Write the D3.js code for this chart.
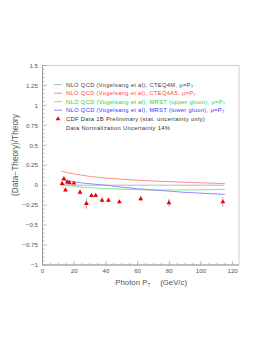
<!DOCTYPE html>
<html><head><meta charset="utf-8">
<script src="https://cdn.jsdelivr.net/npm/d3@7"></script>
<style>body{margin:0;background:#fff}svg{display:block}text{font-family:"Liberation Sans",Arial,sans-serif}</style>
</head><body>
<script>
const yTicks = [-1,-0.75,-0.5,-0.25,0,0.25,0.5,0.75,1,1.25,1.5];
const xTicks = [0,20,40,60,80,100,120];
const thPt = [12,15,20,25,30,40,50,60,70,80,90,100,115];
const thCTEQ4M = [0,0,0,0,0,0,0,0,0,0,0,0,0];
const thCTEQ4A5 = [0.175,0.16,0.14,0.125,0.11,0.09,0.075,0.062,0.052,0.045,0.036,0.03,0.02];
const thMRSTup = [0.01,0.0,-0.015,-0.025,-0.032,-0.042,-0.05,-0.056,-0.06,-0.06,-0.06,-0.058,-0.052];
const thMRSTlow = [0.07,0.06,0.042,0.028,0.018,0.0,-0.025,-0.045,-0.06,-0.075,-0.09,-0.1,-0.115];
const dataPt = [12.4,13.5,14.5,15.6,17,19.8,23.7,27.7,30.9,33.6,37.6,41.6,48.5,62,79.8,113.8];
const dataVal = [0.02,0.08,-0.06,0.04,0.03,0.025,-0.09,-0.23,-0.13,-0.13,-0.19,-0.19,-0.21,-0.17,-0.22,-0.21];
const dataErr = [0.015,0.02,0.02,0.015,0.015,0.015,0.03,0.065,0.02,0.02,0.02,0.02,0.025,0.03,0.05,0.06];
const legendLabels = [
 ["NLO QCD (Vogelsang et al), CTEQ4M, \u03bc=P","T"],
 ["NLO QCD (Vogelsang et al), CTEQ4A5, \u03bc=P","T"],
 ["NLO QCD (Vogelsang et al), MRST (upper gluon), \u03bc=P","T"],
 ["NLO QCD (Vogelsang et al), MRST (lower gluon), \u03bc=P","T"]
];
const dataLabel = "CDF Data 1B Preliminary (stat. uncertainty only)";
const normLabel = "Data Normalization Uncertainty 14%";

const W=274,H=354;
const svg=d3.select("body").append("svg").attr("width",W).attr("height",H);
const x=d3.scaleLinear().domain([0,124]).range([42.5,239]);
const y=d3.scaleLinear().domain([-1,1.5]).range([265,65.5]);

svg.append("rect").attr("x",x(0)).attr("y",y(1.5)).attr("width",x(124)-x(0)).attr("height",y(-1)-y(1.5))
 .attr("fill","none").attr("stroke","#d0d0d0").attr("stroke-width",1);

const yAx=svg.append("g").attr("transform",`translate(${x(0)},0)`);
yAx.append("line").attr("y1",y(-1)).attr("y2",y(1.5)).attr("stroke","#999");
const yMinor=d3.range(-1,1.5001,0.05);
yAx.selectAll("line.mn").data(yMinor).enter().append("line").attr("class","mn")
 .attr("x1",0).attr("x2",d=>Math.abs(d*4-Math.round(d*4))<1e-6?4:2)
 .attr("y1",d=>y(d)).attr("y2",d=>y(d)).attr("stroke","#999").attr("stroke-width",0.7);
yAx.selectAll("text").data(yTicks).enter().append("text").attr("x",-4.5).attr("y",d=>y(d)+2.2)
 .attr("text-anchor","end").attr("font-size",6.2).attr("fill","#555")
 .text(d=>d===0?"0":(d<0?"\u2212"+Math.abs(d):d));

const xAx=svg.append("g").attr("transform",`translate(0,${y(-1)})`);
xAx.append("line").attr("x1",x(0)).attr("x2",x(124)).attr("stroke","#999");
const xMinor=d3.range(0,121,5);
xAx.selectAll("line.mn").data(xMinor).enter().append("line").attr("class","mn")
 .attr("x1",d=>x(d)).attr("x2",d=>x(d)).attr("y1",0).attr("y2",d=>d%20===0?-4:-2)
 .attr("stroke","#999").attr("stroke-width",0.7);
xAx.selectAll("text").data(xTicks).enter().append("text").attr("x",d=>x(d)).attr("y",7.5)
 .attr("text-anchor","middle").attr("font-size",6.2).attr("fill","#555").text(d=>d);

const xt=svg.append("text").attr("x",187).attr("y",285).attr("text-anchor","end").attr("font-size",7.8).attr("fill","#555");
xt.append("tspan").text("Photon P");
xt.append("tspan").attr("font-size",4.5).attr("dy",1.5).text("T");
xt.append("tspan").attr("dy",-1.5).text("\u2003 (GeV/c)");
svg.append("text").attr("transform",`translate(18,155) rotate(-90)`).attr("text-anchor","middle")
 .attr("font-size",8.3).attr("fill","#555").text("(Data\u2212Theory)/Theory");

const series=[thCTEQ4M,thCTEQ4A5,thMRSTup,thMRSTlow];
const lineCols=["#b0b0b0","#ff8080","#80e080","#8080ff"];
const textCols=["#444","#ff4444","#33cc33","#3333ff"];
const line=d3.line().x((d,i)=>x(thPt[i])).y(d=>y(d));
series.forEach((s,k)=>{
 svg.append("path").datum(s).attr("d",line).attr("fill","none").attr("stroke",lineCols[k]).attr("stroke-width",0.9);
});

const pts=svg.append("g");
dataPt.forEach((p,i)=>{
 pts.append("line").attr("x1",x(p)).attr("x2",x(p)).attr("y1",y(dataVal[i]-dataErr[i])).attr("y2",y(dataVal[i]+dataErr[i]))
  .attr("stroke","#999").attr("stroke-width",0.8);
});
const tri=d3.symbol().type(d3.symbolTriangle).size(10);
pts.selectAll("path").data(dataPt).enter().append("path").attr("d",tri)
 .attr("transform",(d,i)=>`translate(${x(d)},${y(dataVal[i])})`).attr("fill","#ee0000");

const ly=[84.7,93.2,101.7,110.2,118.9,127.5];
const lf=5.8, ls=0.32;
legendLabels.forEach((l,k)=>{
 svg.append("line").attr("x1",54).attr("x2",62).attr("y1",ly[k]).attr("y2",ly[k]).attr("stroke",lineCols[k]).attr("stroke-width",0.9);
 const t=svg.append("text").attr("x",66).attr("y",ly[k]+2).attr("font-size",lf).attr("letter-spacing",ls).attr("fill",textCols[k]);
 t.append("tspan").text(l[0]);
 t.append("tspan").attr("font-size",3.5).attr("dy",1).text(l[1]);
});
svg.append("path").attr("d",tri).attr("transform",`translate(58,${ly[4]})`).attr("fill","#ee0000");
svg.append("text").attr("x",66).attr("y",ly[4]+2).attr("font-size",lf).attr("letter-spacing",ls).attr("fill","#333").text(dataLabel);
svg.append("text").attr("x",66).attr("y",ly[5]+2).attr("font-size",lf).attr("letter-spacing",ls).attr("fill","#333").text(normLabel);
</script>
</body></html>
